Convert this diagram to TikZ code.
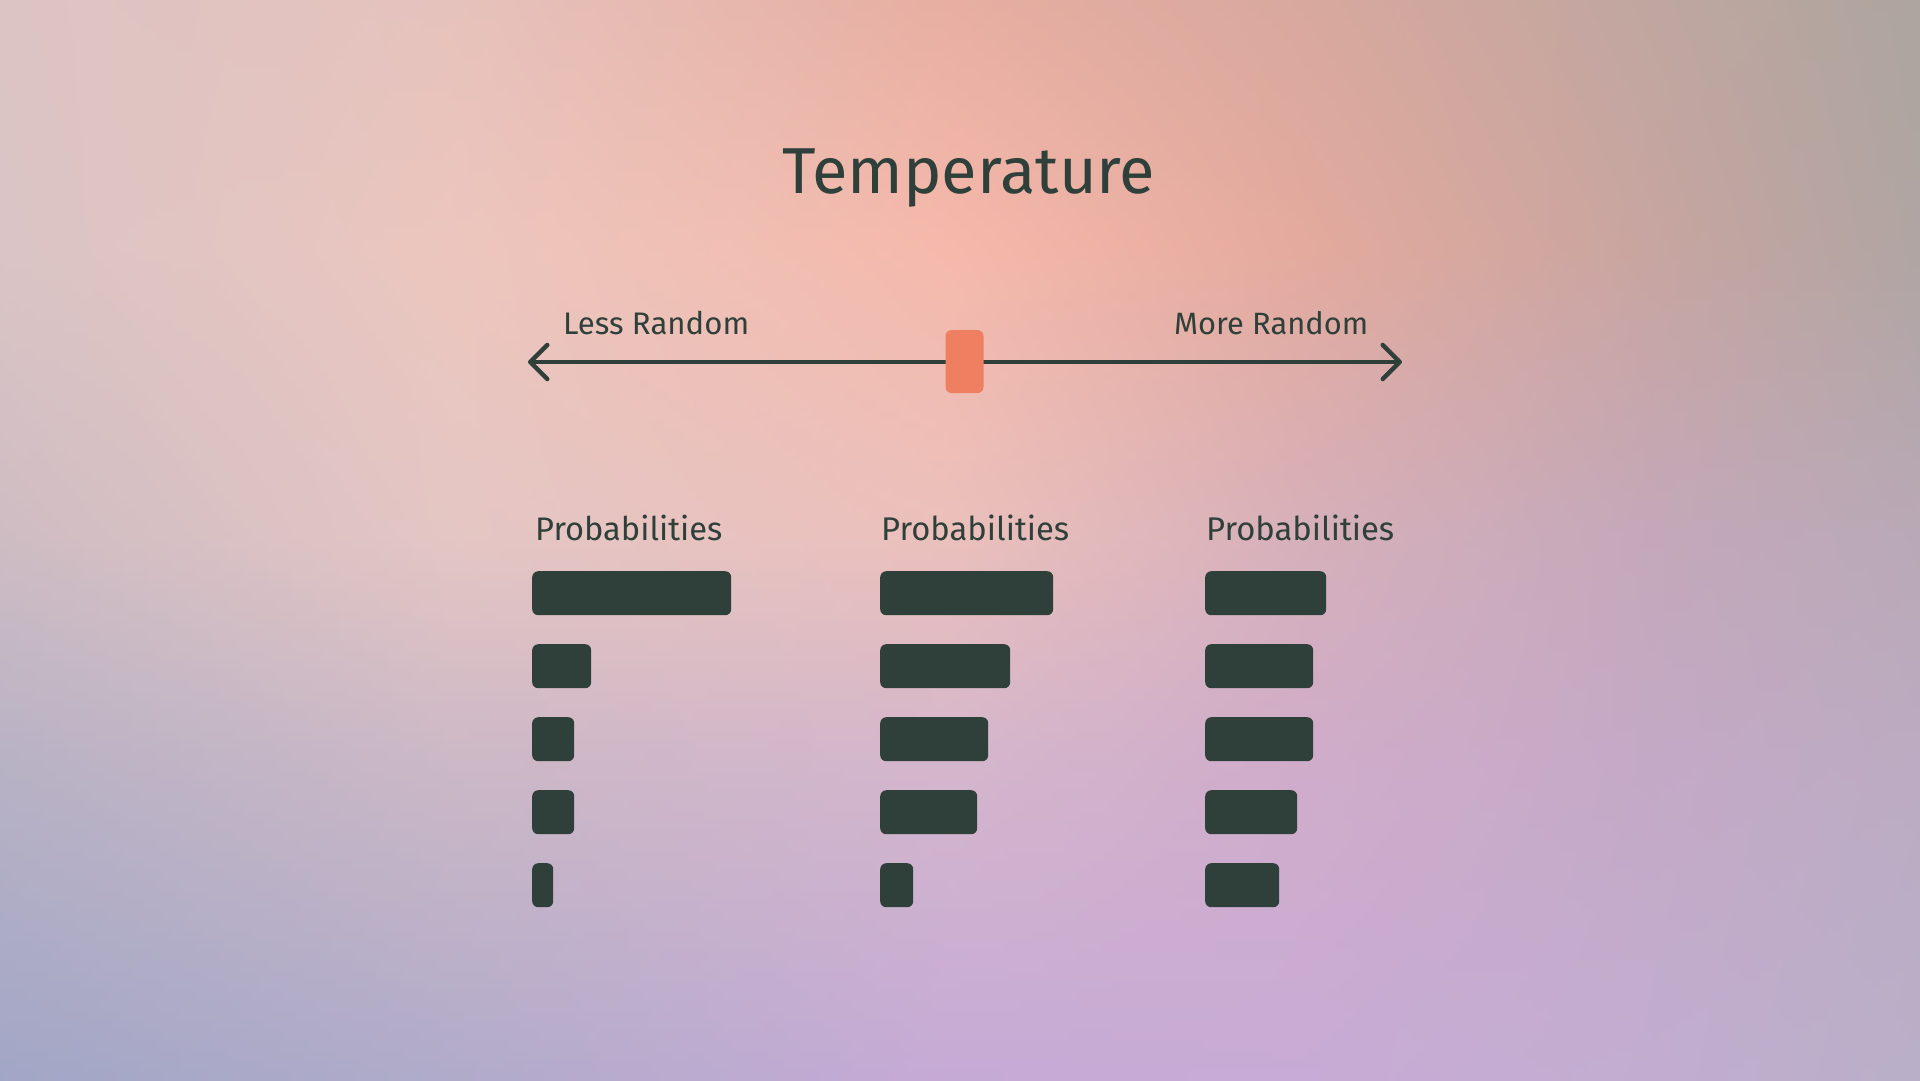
\documentclass[tikz,border=0pt]{standalone}
\usepackage{graphicx}
\usepackage{fontspec}
\setmainfont{Fira Sans}
\usetikzlibrary{arrows.meta}
\definecolor{ink}{HTML}{2F3F39}
\definecolor{knobc}{HTML}{EF7F61}
% background colour grid: rows at y = 0, 250, 540, 760, 1080; stops at x = 0, 450, 950, 1300, 1650, 1920
\definecolor{r0c0}{HTML}{DCC4C4}\definecolor{r0c1}{HTML}{E6C2BC}\definecolor{r0c2}{HTML}{E7AEA1}\definecolor{r0c3}{HTML}{D8A89E}\definecolor{r0c4}{HTML}{C0A6A0}\definecolor{r0c5}{HTML}{ADA59E}
\definecolor{r1c0}{HTML}{DAC4C5}\definecolor{r1c1}{HTML}{ECC6BE}\definecolor{r1c2}{HTML}{F5B9AB}\definecolor{r1c3}{HTML}{E4AA9D}\definecolor{r1c4}{HTML}{C8A5A0}\definecolor{r1c5}{HTML}{B0A5A3}
\definecolor{r2c0}{HTML}{CEBCC3}\definecolor{r2c1}{HTML}{E4C6C4}\definecolor{r2c2}{HTML}{EBC0BC}\definecolor{r2c3}{HTML}{D6B0BA}\definecolor{r2c4}{HTML}{C4A8BA}\definecolor{r2c5}{HTML}{B9A9B6}
\definecolor{r3c0}{HTML}{B8B2C5}\definecolor{r3c1}{HTML}{CCB8C6}\definecolor{r3c2}{HTML}{D4B6CC}\definecolor{r3c3}{HTML}{D0ACCA}\definecolor{r3c4}{HTML}{C4A9C6}\definecolor{r3c5}{HTML}{BCABC2}
\definecolor{r4c0}{HTML}{A2A6C6}\definecolor{r4c1}{HTML}{B0ABCA}\definecolor{r4c2}{HTML}{C6AAD6}\definecolor{r4c3}{HTML}{C8ABD6}\definecolor{r4c4}{HTML}{C2ADD0}\definecolor{r4c5}{HTML}{B9AFC8}
\tikzset{
  txt/.style={text=ink, inner sep=0pt, anchor=base west},
  bar/.style={fill=ink, rounded corners=6pt, inner sep=0pt, anchor=north west, minimum height=44pt},
  knob/.style={fill=knobc, rounded corners=6pt, inner sep=0pt, minimum width=38pt, minimum height=63pt},
  axisline/.style={draw=ink, line width=4.5pt, line cap=round,
    {Straight Barb[length=17pt,width=34pt,round]}-{Straight Barb[length=17pt,width=34pt,round]}}
}
\begin{document}
\begin{tikzpicture}[x=1pt,y=-1pt]
\useasboundingbox (0,0) rectangle (1920,1080);
% background, as thin horizontal strips (TikZ maps 25bp..75bp of a shading onto the path)
\foreach \i in {0,...,107}{
  \pgfmathsetmacro{\yc}{\i*10+5}
  \ifdim\yc pt<250pt
    \def\ra{0}\def\rb{1}\pgfmathsetmacro{\p}{100*(1-(\yc-0)/250)}
  \else\ifdim\yc pt<540pt
    \def\ra{1}\def\rb{2}\pgfmathsetmacro{\p}{100*(1-(\yc-250)/290)}
  \else\ifdim\yc pt<760pt
    \def\ra{2}\def\rb{3}\pgfmathsetmacro{\p}{100*(1-(\yc-540)/220)}
  \else
    \def\ra{3}\def\rb{4}\pgfmathsetmacro{\p}{100*(1-(\yc-760)/320)}
  \fi\fi\fi
  \colorlet{s0}{r\ra c0!\p!r\rb c0}
  \colorlet{s1}{r\ra c1!\p!r\rb c1}
  \colorlet{s2}{r\ra c2!\p!r\rb c2}
  \colorlet{s3}{r\ra c3!\p!r\rb c3}
  \colorlet{s4}{r\ra c4!\p!r\rb c4}
  \colorlet{s5}{r\ra c5!\p!r\rb c5}
  \pgfdeclarehorizontalshading{bgs\i}{100bp}{color(0bp)=(s0); color(25bp)=(s0); color(36.72bp)=(s1); color(49.74bp)=(s2); color(58.85bp)=(s3); color(67.97bp)=(s4); color(75bp)=(s5); color(100bp)=(s5)}
  \fill[shading=bgs\i] (0,\i*10) rectangle (1920,\i*10+10.6);
}
% title
\node[txt] (title) at (782,193) {\resizebox{373pt}{!}{Temperature}};
% slider
\node[txt] (less) at (563,334) {\resizebox{186pt}{!}{Less Random}};
\node[txt] (more) at (1174,334) {\resizebox{194pt}{!}{More Random}};
\coordinate (L) at (528,362);
\coordinate (R) at (1402,362);
\draw[axisline] (L) -- (R);
\node[knob] (knob) at (964.5,361.5) {};
% columns
\node[txt] (p1) at (535,540) {\resizebox{187pt}{!}{Probabilities}};
\node[txt] (p2) at (881,540) {\resizebox{188pt}{!}{Probabilities}};
\node[txt] (p3) at (1206,540) {\resizebox{188pt}{!}{Probabilities}};
% column 1
\node[bar, minimum width=199pt] (a1) at (532,571) {};
\node[bar, minimum width=59pt] (a2) at (532,644) {};
\node[bar, minimum width=42pt] (a3) at (532,717) {};
\node[bar, minimum width=42pt] (a4) at (532,790) {};
\node[bar, minimum width=21pt] (a5) at (532,863) {};
% column 2
\node[bar, minimum width=173pt] (b1) at (880,571) {};
\node[bar, minimum width=130pt] (b2) at (880,644) {};
\node[bar, minimum width=108pt] (b3) at (880,717) {};
\node[bar, minimum width=97pt] (b4) at (880,790) {};
\node[bar, minimum width=33pt] (b5) at (880,863) {};
% column 3
\node[bar, minimum width=121pt] (c1) at (1205,571) {};
\node[bar, minimum width=108pt] (c2) at (1205,644) {};
\node[bar, minimum width=108pt] (c3) at (1205,717) {};
\node[bar, minimum width=92pt] (c4) at (1205,790) {};
\node[bar, minimum width=74pt] (c5) at (1205,863) {};
\end{tikzpicture}
\end{document}
